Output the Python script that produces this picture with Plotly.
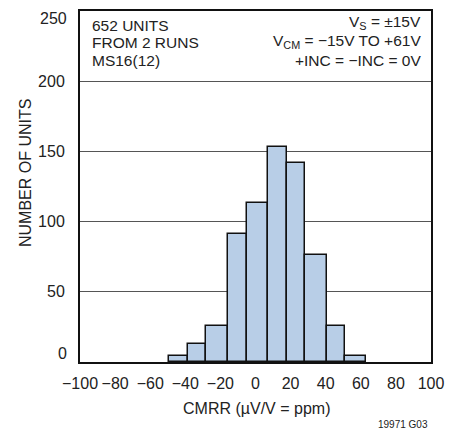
import plotly.graph_objects as go

# Data
bin_edges = [-49.4, -38.6, -28.1, -15.8, -5.1, 7.0, 17.7, 28.1, 40.5, 51.1, 63.2]
counts = [4, 13, 26, 91, 113, 153, 142, 76, 26, 4]
x_ticks = [-100, -80, -60, -40, -20, 0, 20, 40, 60, 80, 100]
x_ticktext = ["−100", "−80", "−60", "−40", "−20", "0", "20", "40", "60", "80", "100"]
y_ticks = [0, 50, 100, 150, 200, 250]
y_ticktext = ["", "50", "100", "150", "200", ""]  # end labels are placed inside the range below
left_notes = ["652 UNITS", "FROM 2 RUNS", "MS16(12)"]
right_notes = ["V<sub>S</sub> = ±15V", "V<sub>CM</sub> = −15V TO +61V", "+INC = −INC = 0V"]

centers = [(a + b) / 2 for a, b in zip(bin_edges[:-1], bin_edges[1:])]
widths = [b - a for a, b in zip(bin_edges[:-1], bin_edges[1:])]

FONT = "Liberation Sans Narrow, Arial Narrow, Liberation Sans, Arial, sans-serif"
OFF = 8  # page body margin
W, H = 461 - OFF, 433 - OFF
L, T = 80 - OFF, 11 - OFF
R = W - (431 - OFF)
B = H - (362 - OFF)

fig = go.Figure()
fig.add_trace(go.Bar(
    x=centers, y=counts, width=widths,
    marker=dict(color="#b8cee7", line=dict(color="#111111", width=1.5)),
    showlegend=False,
))

fig.update_layout(
    width=W, height=H,
    margin=dict(l=L, r=R, t=T, b=B, autoexpand=False),
    paper_bgcolor="white", plot_bgcolor="white",
    font=dict(family=FONT, size=16, color="#222222"),
    bargap=0,
    xaxis=dict(
        range=[-100, 100], tickvals=x_ticks, ticktext=x_ticktext,
        showgrid=False, zeroline=False, automargin=False,
        showline=True, linecolor="#111111", linewidth=2, mirror=True,
        ticks="", ticklabelstandoff=6,
        tickfont=dict(size=16),
    ),
    yaxis=dict(
        range=[0, 250], tickvals=y_ticks, ticktext=y_ticktext,
        showgrid=True, gridcolor="#555555", gridwidth=1,
        zeroline=False, automargin=False,
        showline=True, linecolor="#111111", linewidth=2, mirror=True,
        ticks="", ticklabelstandoff=10,
        tickfont=dict(size=16),
    ),
)


def px_x(px):
    return (px - OFF - L) / (W - L - R)


def px_y(py):
    return 1 - (py - OFF - T) / (H - T - B)


annotations = []
left_y = [25, 42.5, 60]
right_y = [23, 42, 60]
for txt, yy in zip(left_notes, left_y):
    annotations.append(dict(text=txt, x=px_x(90), y=px_y(yy),
                            xanchor="left", yanchor="middle", font=dict(size=15.5)))
for txt, yy in zip(right_notes, right_y):
    annotations.append(dict(text=txt, x=px_x(423), y=px_y(yy),
                            xanchor="right", yanchor="middle", font=dict(size=15.5)))
# end tick labels of y axis, nudged inside like the reference
annotations.append(dict(text=str(y_ticks[-1]), x=px_x(69), y=px_y(18),
                        xanchor="right", yanchor="middle", font=dict(size=16)))
annotations.append(dict(text=str(y_ticks[0]), x=px_x(69), y=px_y(353),
                        xanchor="right", yanchor="middle", font=dict(size=16)))
annotations += [
    dict(text="NUMBER OF UNITS", x=px_x(25), y=px_y(173), textangle=-90,
         xanchor="center", yanchor="middle", font=dict(size=16)),
    dict(text="CMRR (µV/V = ppm)", x=px_x(256), y=px_y(409),
         xanchor="center", yanchor="middle", font=dict(size=16)),
    dict(text="19971 G03", x=px_x(403), y=px_y(424),
         xanchor="center", yanchor="middle", font=dict(size=10)),
]
for a in annotations:
    a.update(xref="paper", yref="paper", showarrow=False)
fig.update_layout(annotations=annotations)

fig.write_html("out.html")
